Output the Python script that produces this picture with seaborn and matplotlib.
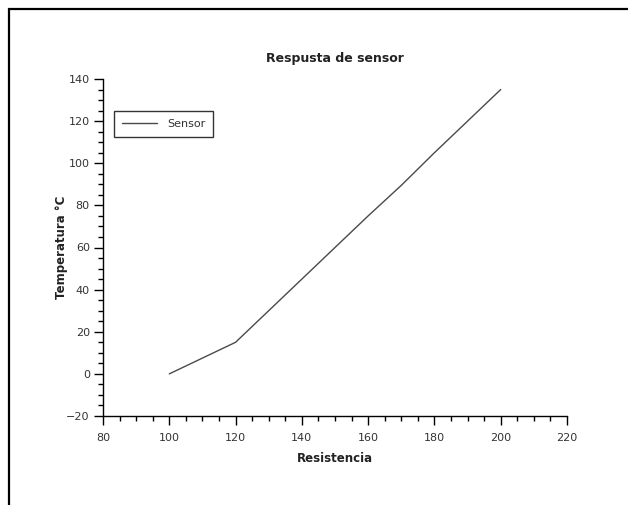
import matplotlib
matplotlib.use("Agg")
import matplotlib.pyplot as plt
import seaborn as sns
import pandas as pd
from matplotlib.ticker import MultipleLocator
from matplotlib.patches import Rectangle

resistencia = [100, 110, 120, 130, 140, 150, 160, 170, 180, 190, 200]
temperatura = [0, 7.5, 15, 30, 45, 60, 75, 89.5, 105, 120, 135]
series_name = "Sensor"

df = pd.DataFrame({"Resistencia": resistencia, "Temperatura": temperatura,
                   "serie": [series_name] * len(resistencia)})

sns.set_theme(style="ticks")
plt.rcParams['font.family'] = ['DejaVu Sans']

W, H = 628, 505
fig = plt.figure(figsize=(W / 100, H / 100), dpi=100)
ax = fig.add_axes([103 / W, 1 - 416 / H, (567 - 103) / W, (416 - 79) / H])

sns.lineplot(data=df, x="Resistencia", y="Temperatura", hue="serie",
             palette=["#4a4a4a"], linewidth=1.0, ax=ax)

ax.set_xlim(80, 220)
ax.set_ylim(-20, 140)
ax.xaxis.set_major_locator(MultipleLocator(20))
ax.xaxis.set_minor_locator(MultipleLocator(5))
ax.yaxis.set_major_locator(MultipleLocator(20))
ax.yaxis.set_minor_locator(MultipleLocator(5))
ax.tick_params(axis="both", which="major", length=6.5, width=1.0, color="black",
               labelsize=8, labelcolor="#333333", pad=3)
ax.tick_params(axis="x", which="major", pad=6)
ax.tick_params(axis="both", which="minor", length=3.5, width=1.0, color="black")
for s in ["top", "right"]:
    ax.spines[s].set_visible(False)
for s in ["left", "bottom"]:
    ax.spines[s].set_color("black")
    ax.spines[s].set_linewidth(1.0)

ax.set_title("Respusta de sensor", fontsize=9, fontweight="bold", color="#222222", pad=12.5)
ax.set_xlabel("Resistencia", fontsize=8.5, fontweight="bold", color="#222222", labelpad=6.5)
ax.set_ylabel("Temperatura °C", fontsize=8.5, fontweight="bold", color="#222222", labelpad=-1)

leg = ax.legend(loc="upper left", bbox_to_anchor=(11 / 464, 1 - 32 / 337),
                frameon=True, fancybox=False, fontsize=8, handlelength=3.2,
                borderpad=0.7, handletextpad=0.9, borderaxespad=0)
leg.get_frame().set_edgecolor("black")
leg.get_frame().set_linewidth(1.0)
for t in leg.get_texts():
    t.set_color("#333333")

fig.patches.append(Rectangle((9 / W, -0.2), 1.5, 1.2 - 9 / H, transform=fig.transFigure,
                             fill=False, edgecolor="black", linewidth=1.6, clip_on=False))

fig.savefig("out.png", dpi=100)
